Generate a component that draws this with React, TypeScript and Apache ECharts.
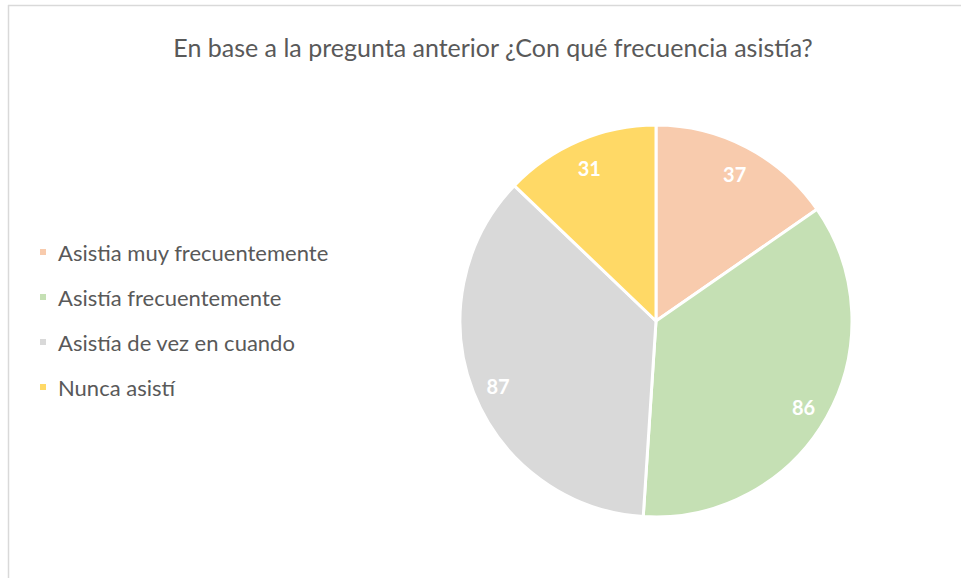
import React, { useEffect, useRef } from "react";
import * as echarts from "echarts";

const titleText = "En base a la pregunta anterior ¿Con qué frecuencia asistía?";
const categories = [
  "Asistia muy frecuentemente",
  "Asistía frecuentemente",
  "Asistía de vez en cuando",
  "Nunca asistí",
];
const values = [37, 86, 87, 31];
const colors = ["#F8CBAD", "#C5E0B4", "#D9D9D9", "#FFD966"];

export default function App() {
  const ref = useRef<HTMLDivElement>(null);
  useEffect(() => {
    document.body.style.margin = "0";
    if (!ref.current) return;
    const chart = echarts.init(ref.current, undefined, { renderer: "svg" });
    const data = categories.map((name, i) => ({
      name,
      value: values[i],
      itemStyle: { color: colors[i] },
    }));
    const font = "Lato, 'Noto Sans', sans-serif";
    chart.setOption({
      animation: false,
      backgroundColor: "#ffffff",
      title: {
        text: titleText,
        left: 488,
        top: 29,
        textAlign: "center",
        textStyle: {
          fontFamily: font,
          fontSize: 25,
          fontWeight: "normal",
          color: "#595959",
        },
      },
      legend: {
        orient: "vertical",
        left: 33,
        top: 236,
        icon: "rect",
        itemWidth: 8,
        itemHeight: 8,
        itemGap: 23,
        data: categories,
        textStyle: {
          fontFamily: font,
          fontSize: 22,
          color: "#595959",
          lineHeight: 22,
          padding: [0, 0, 0, 6],
        },
      },
      graphic: [
        {
          type: "line",
          shape: { x1: 8, y1: 5.5, x2: 961, y2: 5.5 },
          style: { stroke: "#D9D9D9", lineWidth: 1.5 },
          silent: true,
        },
        {
          type: "line",
          shape: { x1: 8.5, y1: 5, x2: 8.5, y2: 578 },
          style: { stroke: "#D9D9D9", lineWidth: 1.5 },
          silent: true,
        },
      ],
      series: [
        {
          type: "pie",
          center: [656, 321],
          radius: [0, 196],
          startAngle: 90,
          clockwise: true,
          silent: true,
          data,
          label: { show: false },
          labelLine: { show: false },
          itemStyle: { borderColor: "#ffffff", borderWidth: 3 },
        },
        {
          type: "pie",
          center: [656, 321],
          radius: [137, 196],
          startAngle: 90,
          clockwise: true,
          silent: true,
          data: categories.map((name, i) => ({ name, value: values[i] })),
          itemStyle: { color: "rgba(0,0,0,0)", borderWidth: 0 },
          label: {
            show: true,
            position: "inside",
            formatter: "{c}",
            color: "#ffffff",
            fontFamily: font,
            fontSize: 20,
            fontWeight: "bold",
            offset: [0, 3],
          },
          labelLine: { show: false },
        },
      ],
    });
    return () => chart.dispose();
  }, []);
  return <div ref={ref} style={{ width: 961, height: 578 }} />;
}
